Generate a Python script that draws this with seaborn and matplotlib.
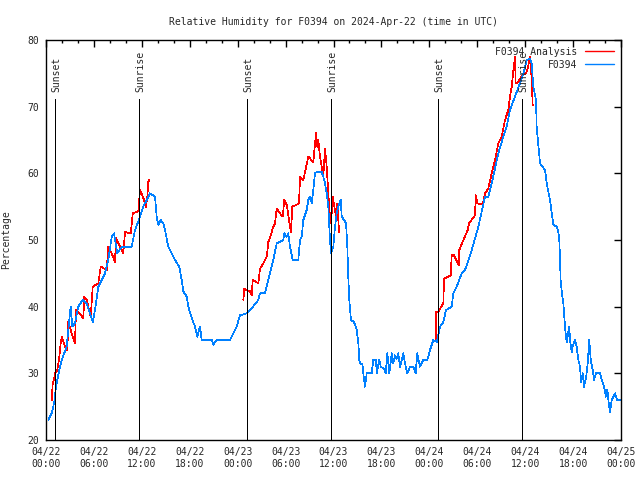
import matplotlib
matplotlib.use("Agg")
import matplotlib.pyplot as plt
import seaborn as sns
import pandas as pd
import numpy as np

# hours since 2024-04-22 00:00 UTC, relative humidity in %
obs_hours = [0.29, 0.71, 1.04, 1.25, 1.67, 1.97, 2.59, 2.79, 3.09, 3.29, 3.63, 4.04, 4.60, 5.10,
             5.51, 5.85, 6.14, 6.55, 7.39, 7.80, 8.23, 8.52, 8.93, 9.48, 10.73, 11.15, 11.77,
             12.18, 13.02, 13.65, 13.86, 14.06, 14.36, 14.69, 14.90, 15.31, 15.74, 16.15, 16.69,
             16.99, 17.19, 17.62, 17.82, 18.24, 18.66, 18.95, 19.28, 19.50, 20.75, 20.95, 21.38,
             23.04, 23.45, 23.88, 24.29, 25.17, 25.92, 26.58, 26.80, 27.42, 27.63, 28.05, 28.46,
             28.89, 29.71, 29.84, 30.14, 30.34, 30.55, 30.89, 31.59, 31.81, 32.02, 32.22, 32.64,
             32.85, 33.06, 33.27, 33.47, 33.68, 33.90, 34.52, 34.72, 34.94, 35.15, 35.35, 35.47,
             35.56, 35.69, 35.98, 36.19, 36.40, 36.60, 36.90, 37.03, 37.32, 37.57, 37.73, 37.85,
             37.98, 38.19, 38.57, 38.91, 39.11, 39.23, 39.41, 39.61, 39.73, 39.94, 40.16, 40.78,
             40.98, 41.32, 41.41, 41.74, 41.91, 42.32, 42.54, 42.74, 42.99, 43.29, 43.49, 43.70,
             43.91, 44.11, 44.33, 44.74, 44.95, 45.24, 45.58, 46.00, 46.29, 46.49, 46.83, 47.25,
             47.75, 48.08, 48.50, 48.92, 49.12, 49.34, 49.75, 50.09, 50.80, 51.00, 51.43, 52.05,
             52.47, 53.31, 54.14, 54.97, 55.38, 55.81, 56.64, 57.26, 57.69, 58.10, 58.73, 59.35,
             59.77, 60.19, 60.61, 60.82, 61.02, 61.36, 61.44, 61.86, 62.49, 62.70, 63.11, 63.52,
             63.95, 64.15, 64.27, 64.36, 64.45, 64.65, 64.78, 64.87, 64.99, 65.11, 65.20, 65.40,
             65.53, 65.61, 65.83, 65.95, 66.24, 66.45, 66.66, 66.87, 66.99, 67.21, 67.37, 67.62,
             67.83, 68.03, 68.21, 68.46, 68.62, 68.87, 69.37, 69.59, 69.87, 70.12, 70.29, 70.47,
             70.63, 70.84, 71.25, 71.54, 71.88]
obs_rh = [23, 24, 25.7, 28, 30.5, 32, 34, 36.5, 40, 37, 37.5, 40, 41, 40.5,
          39, 37.7, 39.5, 43, 45, 47, 50.5, 51, 48, 49, 49, 51.5, 53.5,
          55, 57, 56.5, 53.5, 52.3, 53, 52.5, 51.5, 49, 48, 47, 46,
          44, 42.3, 41.5, 40, 38.3, 37, 35.5, 37, 35, 35, 34.3, 35,
          35, 36, 37, 38.7, 39, 40, 41, 42, 42, 43, 45, 47,
          49.5, 50, 51, 50.5, 51, 49, 47, 47, 50, 50.5, 53, 54.5,
          56, 56.5, 55.5, 57.5, 60, 60.2, 60.2, 59.5, 58.5, 57, 55, 52,
          50, 48, 49, 52, 54, 55, 56, 53.5, 53, 52.5, 49, 44.5,
          41, 38, 37.7, 36.5, 34.5, 32, 31.3, 31.5, 30, 28, 30, 30,
          32, 32, 30, 32, 31, 30.7, 30, 33, 30, 33, 31.5, 32.7,
          32.2, 33, 31, 33, 31.5, 30, 31, 31, 30, 33, 31, 32,
          32, 33.5, 35, 34.7, 35.7, 37, 37.7, 39.5, 40, 42, 43, 45,
          45.5, 48.5, 52, 56.5, 56.5, 58.5, 63, 65.5, 67, 69.5, 71.5, 73.5,
          75, 77, 77.2, 76.5, 73, 71, 67, 61.5, 60.5, 58.5, 56, 52.3,
          52, 51.2, 50, 47.3, 43.7, 41.5, 40.5, 39, 37, 35.5, 34.7, 36.2,
          37, 35, 33.2, 34, 35, 34, 32, 31, 28.7, 30, 28, 29.3,
          31.5, 35, 32, 30.5, 29, 30, 30, 29, 28, 26.5, 27.5, 25.5,
          24.2, 26, 27, 26, 26]

# analysis, three daily pieces
ana_hours_1 = [0.71, 0.84, 1.00, 1.13, 1.42, 1.67, 1.84, 1.97, 2.38, 2.67, 2.79, 3.22, 3.63, 3.76,
               4.17, 4.67, 4.80, 5.10, 5.60, 5.85, 6.55, 6.85, 7.60, 7.80, 8.23, 8.64, 8.77,
               9.27, 9.68, 9.89, 10.61, 10.86, 11.56, 11.68, 11.77, 11.98, 12.27, 12.52, 12.69,
               12.81, 12.94]
ana_rh_1 = [26, 28.5, 29, 30, 30.5, 32.5, 34.5, 35.5, 34, 33.5, 37.7, 36, 34.5, 39.5,
            39, 38.3, 41.5, 41, 38.5, 43, 43.5, 46, 45.5, 49, 48, 46.7, 50.3,
            49, 48, 51.2, 51, 54, 54.3, 56, 57.5, 57, 56, 55, 56.5,
            58.7, 59]
ana_hours_2 = [24.71, 24.83, 25.13, 25.54, 25.76, 25.88, 26.58, 26.80, 27.21, 27.64, 27.84, 28.05,
               28.46, 28.68, 28.89, 29.30, 29.64, 29.84, 30.14, 30.43, 30.68, 30.84, 31.39, 31.68,
               31.81, 32.22, 32.85, 33.47, 33.81, 33.97, 34.10, 34.31, 34.52, 34.72, 34.94, 35.15,
               35.35, 35.56, 35.69, 35.90, 36.10, 36.31, 36.48, 36.69]
ana_rh_2 = [41, 42.7, 42.5, 42.3, 41.7, 44, 43.5, 45.7, 46.5, 47.5, 49.7, 50.3,
            52, 52.5, 54.7, 54, 53.5, 56, 55.3, 53, 51.2, 55, 55.3, 55.5,
            59.5, 59, 62.5, 61.7, 66, 64, 65, 62.5, 61, 59.5, 63.7, 61,
            57, 53.5, 52.5, 56.5, 55, 53.5, 55.5, 51.2]
ana_hours_3 = [48.80, 48.86, 49.12, 49.75, 49.84, 50.68, 50.80, 51.09, 51.72, 51.75, 52.09, 52.80,
               52.97, 53.72, 53.81, 54.01, 54.68, 54.97, 55.38, 55.81, 56.22, 56.64, 57.06, 57.48,
               57.89, 58.10, 58.32, 58.52, 58.73, 58.81, 59.02, 59.35, 59.77, 60.11, 60.37, 60.61,
               60.82, 60.94]
ana_rh_3 = [35, 39.2, 39.2, 40.5, 44.2, 44.7, 47.7, 47.7, 46.2, 48.5, 49.5, 51.5,
            52.5, 53.7, 56.7, 55.5, 55.3, 57, 57.7, 60, 62, 64.5, 65.5, 68,
            69.5, 71.5, 73, 75.5, 77.5, 73.5, 73.5, 74.2, 74.8, 75, 76, 77.5,
            74, 70.2]

sun_hours = [1.15, 11.67, 25.17, 35.69, 49.09, 59.6]
sun_labels = ["Sunset", "Sunrise", "Sunset", "Sunrise", "Sunset", "Sunrise"]

tick_hours = list(range(0, 73, 6))
base = pd.Timestamp("2024-04-22 00:00")
tick_labels = [(base + pd.Timedelta(hours=h)).strftime("%m/%d\n%H:%M") for h in tick_hours]

sns.set_theme(style="white")
plt.rcParams['font.family'] = ['DejaVu Sans Mono']
plt.rcParams['font.size'] = 7

parts = []
for seg, (hh, vv) in enumerate([(ana_hours_1, ana_rh_1), (ana_hours_2, ana_rh_2), (ana_hours_3, ana_rh_3)]):
    parts.append(pd.DataFrame({'hour': hh, 'rh': vv, 'series': 'F0394 Analysis', 'seg': seg}))
parts.append(pd.DataFrame({'hour': obs_hours, 'rh': obs_rh, 'series': 'F0394', 'seg': 10}))
df = pd.concat(parts, ignore_index=True)

colors = {'F0394 Analysis': '#ff0000', 'F0394': '#0080ff'}

fig = plt.figure(figsize=(6.4, 4.8), dpi=100)
ax = fig.add_axes([46 / 640, 40 / 480, 575 / 640, 400 / 480])

sns.lineplot(data=df, x='hour', y='rh', hue='series', units='seg', estimator=None, sort=False,
             palette=colors, linewidth=0.5, ax=ax, legend=False)
for ln in ax.get_lines():
    ln.set_antialiased(False)

# sunrise / sunset markers
for h, lab in zip(sun_hours, sun_labels):
    ax.plot([h, h], [20, 71.2], color='black', linewidth=0.7, antialiased=False)
    ax.text(h + 0.15, 72.2, lab, rotation=90, ha='center', va='bottom', fontsize=7)

ax.set_xlim(0, 72)
ax.set_ylim(20, 80)
ax.set_xticks(tick_hours)
ax.set_xticklabels(tick_labels)
ax.set_xticks(range(0, 73, 2), minor=True)
ax.set_yticks(range(20, 81, 10))
ax.tick_params(which='both', direction='in', top=True, right=True, color='black', width=1)
ax.tick_params(which='major', length=5, labelsize=7, pad=5)
ax.tick_params(which='minor', length=2.5)
for s in ax.spines.values():
    s.set_color('black')
    s.set_linewidth(1)

ax.set_title("Relative Humidity for F0394 on 2024-Apr-22 (time in UTC)", fontsize=7, pad=11)
ax.set_xlabel("")
ax.set_ylabel("Percentage", fontsize=7)
ax.yaxis.set_label_coords(-0.061, 0.5)

handles = [plt.Line2D([], [], color=c, linewidth=1) for c in colors.values()]
ax.legend(handles, list(colors.keys()), loc='upper right', frameon=False, markerfirst=False,
          handlelength=3.0, fontsize=7, borderaxespad=0.3, labelspacing=0.3)

plt.savefig("out.png", dpi=100)
plt.close()
